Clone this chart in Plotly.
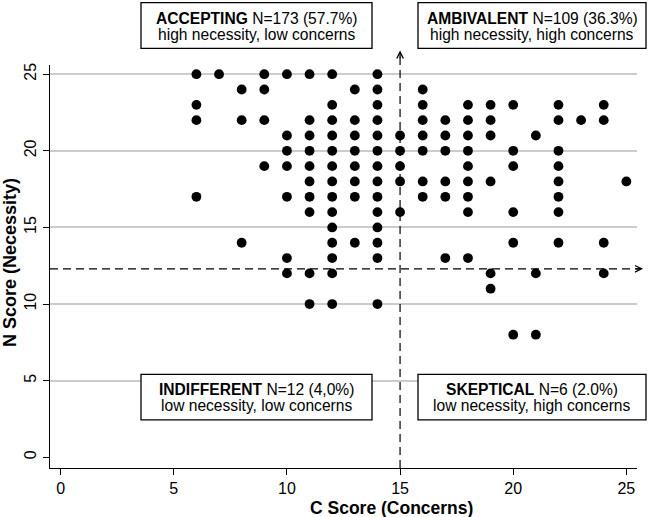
import plotly.graph_objects as go

# ───────────────────────────────────────────────────────────────
# DATA  (one entry per plotted dot)
# ───────────────────────────────────────────────────────────────

c_score = [
    6, 7, 9, 10, 11, 12, 14,                                   # N=25
    8, 9, 13, 14, 16,                                          # N=24
    6, 12, 14, 16, 18, 19, 20, 22, 24,                         # N=23
    6, 8, 9, 11, 12, 13, 14, 16, 17, 18, 19, 22, 23, 24,       # N=22
    10, 11, 12, 13, 14, 15, 16, 17, 18, 19, 21,                # N=21
    10, 11, 12, 13, 14, 15, 16, 17, 18, 20, 22,                # N=20
    9, 10, 11, 12, 13, 14, 15, 18, 20, 22,                     # N=19
    11, 12, 13, 14, 15, 16, 17, 18, 19, 22, 25,                # N=18
    6, 10, 11, 12, 13, 14, 16, 17, 18, 22,                     # N=17
    11, 12, 14, 15, 18, 20, 22,                                # N=16
    12, 14,                                                    # N=15
    8, 12, 13, 14, 20, 22, 24,                                 # N=14
    10, 12, 14, 17, 18,                                        # N=13
    10, 11, 12, 19, 21, 24,                                    # N=12
    19,                                                        # N=11
    11, 12, 14,                                                # N=10
    20, 21,                                                    # N=8
]

n_score = (
    [25] * 7 + [24] * 5 + [23] * 9 + [22] * 14 + [21] * 11 + [20] * 11
    + [19] * 10 + [18] * 11 + [17] * 10 + [16] * 7 + [15] * 2 + [14] * 7
    + [13] * 5 + [12] * 6 + [11] * 1 + [10] * 3 + [8] * 2
)

# cut-off lines
C_CUT = 15
N_CUT = 12.3

tick_vals = [0, 5, 10, 15, 20, 25]

quadrants = [
    ("ACCEPTING", "N=173 (57.7%)", "high necessity, low concerns"),
    ("AMBIVALENT", "N=109 (36.3%)", "high necessity, high concerns"),
    ("INDIFFERENT", "N=12 (4,0%)", "low necessity, low concerns"),
    ("SKEPTICAL", "N=6 (2.0%)", "low necessity, high concerns"),
]

# ───────────────────────────────────────────────────────────────
# LAYOUT HELPERS (pixel -> paper)
# ───────────────────────────────────────────────────────────────

W, H = 649, 517
PLOT_L, PLOT_R, PLOT_T, PLOT_B = 50, 637, 65, 468
FONT = "Liberation Sans, Arial, Helvetica, sans-serif"


def px_x(px):
    return (px - PLOT_L) / (PLOT_R - PLOT_L)


def px_y(py):
    return (PLOT_B - py) / (PLOT_B - PLOT_T)


# box geometry in pixels: (left, right, top)
box_pos = [(141, 372, 2.7), (418, 646, 2.7), (141, 372, 374.3), (418, 646, 374.3)]
BOX_H = 45.6

fig = go.Figure()

fig.add_trace(go.Scatter(
    x=c_score, y=n_score, mode="markers",
    marker=dict(size=9.8, color="black", line=dict(width=0)),
    hoverinfo="x+y", showlegend=False,
))

shapes = []
annotations = []

# dashed cut-off lines
shapes.append(dict(type="line", xref="x", yref="paper", x0=C_CUT, x1=C_CUT,
                   y0=0, y1=px_y(53), line=dict(color="black", width=1.2, dash="8px,5px")))
shapes.append(dict(type="line", xref="paper", yref="y", x0=0, x1=px_x(641),
                   y0=N_CUT, y1=N_CUT, line=dict(color="black", width=1.2, dash="8px,5px")))

# arrow heads on the cut-off lines
annotations.append(dict(x=C_CUT, y=px_y(50.5), xref="x", yref="paper", text="",
                        showarrow=True, arrowhead=5, arrowsize=1, arrowwidth=1.3,
                        arrowcolor="black", ax=0, ay=9))
annotations.append(dict(x=px_x(643), y=N_CUT, xref="paper", yref="y", text="",
                        showarrow=True, arrowhead=5, arrowsize=1, arrowwidth=1.3,
                        arrowcolor="black", ax=-9, ay=0))

# quadrant boxes
for (name, count, desc), (bl, br, bt) in zip(quadrants, box_pos):
    shapes.append(dict(type="rect", xref="paper", yref="paper", layer="above",
                       x0=px_x(bl), x1=px_x(br), y0=px_y(bt + BOX_H), y1=px_y(bt),
                       fillcolor="white", line=dict(color="black", width=1.3)))
    cx = px_x((bl + br) / 2)
    annotations.append(dict(x=cx, y=px_y(bt + 15.4), xref="paper", yref="paper",
                            text=f"<b>{name}</b> {count}", showarrow=False,
                            xanchor="center", yanchor="middle",
                            font=dict(family=FONT, size=15.6, color="black")))
    annotations.append(dict(x=cx, y=px_y(bt + 31.6), xref="paper", yref="paper",
                            text=desc, showarrow=False,
                            xanchor="center", yanchor="middle",
                            font=dict(family=FONT, size=15.6, color="black")))

# axis titles
annotations.append(dict(x=px_x(391.7), y=px_y(508), xref="paper", yref="paper",
                        text="<b>C Score (Concerns)</b>", showarrow=False,
                        xanchor="center", yanchor="middle",
                        font=dict(family=FONT, size=17.5, color="black")))
annotations.append(dict(x=px_x(10), y=px_y(263), xref="paper", yref="paper",
                        text="<b>N Score (Necessity)</b>", showarrow=False, textangle=-90,
                        xanchor="center", yanchor="middle",
                        font=dict(family=FONT, size=18, color="black")))

fig.update_layout(
    width=W, height=H, autosize=False,
    margin=dict(l=PLOT_L, r=W - PLOT_R, t=PLOT_T, b=H - PLOT_B, pad=0),
    paper_bgcolor="white", plot_bgcolor="white",
    font=dict(family=FONT, size=16, color="black"),
    shapes=shapes, annotations=annotations,
)

fig.update_xaxes(
    range=[-0.47, 25.47], tickvals=tick_vals, ticks="outside", ticklen=6,
    tickwidth=1.3, tickcolor="black", showline=True, linecolor="black", linewidth=1.3,
    showgrid=False, zeroline=False, tickfont=dict(size=16),
)
fig.update_yaxes(
    range=[-0.7, 25.6], tickvals=tick_vals, tickangle=-90, ticks="outside", ticklen=6,
    tickwidth=1.3, tickcolor="black", showline=True, linecolor="black", linewidth=1.3,
    showgrid=True, gridcolor="#cccccc", gridwidth=1.5,
    zeroline=True, zerolinecolor="white", tickfont=dict(size=16),
)

# drop the browser's default body margin so the figure sits at the page corner
fig.write_html("out.html", config={"displayModeBar": False},
               post_script="document.body.style.margin='0';")
